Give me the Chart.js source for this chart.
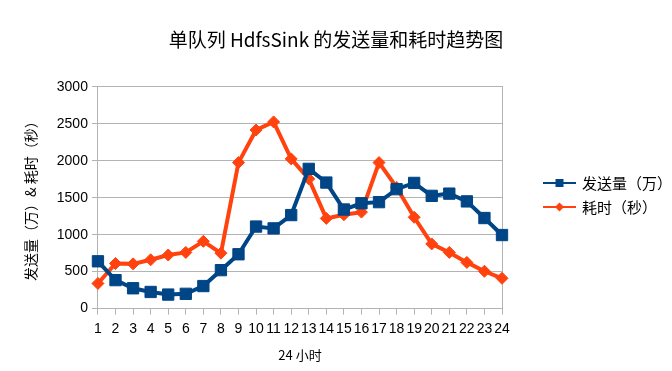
<!DOCTYPE html>
<html>
<head>
<meta charset="utf-8">
<script src="https://cdn.jsdelivr.net/npm/chart.js@4"></script>
<style>
  html, body { margin: 0; padding: 0; background: #fff; }
  #wrap { width: 672px; height: 371px; }
</style>
</head>
<body>
<div id="wrap"><canvas id="chart" width="672" height="371"></canvas></div>
<script>
const hours = ['1','2','3','4','5','6','7','8','9','10','11','12','13','14','15','16','17','18','19','20','21','22','23','24'];
const sendVolume = [640, 385, 275, 225, 190, 200, 305, 520, 735, 1110, 1085, 1265, 1890, 1705, 1340, 1425, 1440, 1615, 1700, 1525, 1555, 1450, 1225, 995];
const timeCost = [340, 610, 605, 660, 725, 760, 910, 750, 1975, 2415, 2525, 2025, 1755, 1220, 1270, 1305, 1975, 1640, 1235, 875, 760, 625, 505, 410];
const yTicks = [0, 500, 1000, 1500, 2000, 2500, 3000];

const FONT = '"Liberation Sans", "Noto Sans CJK SC", sans-serif';
const CJK = '"Noto Sans CJK SC", "Liberation Sans", sans-serif';

// legend drawn as line + marker, like the office chart
const sideLegend = {
  id: 'sideLegend',
  afterDraw(chart) {
    const ctx = chart.ctx;
    const x0 = 543, x1 = 576;
    chart.data.datasets.forEach((ds, i) => {
      const y = 183 + i * 24;
      ctx.save();
      ctx.strokeStyle = ds.borderColor;
      ctx.lineWidth = 2;
      ctx.beginPath();
      ctx.moveTo(x0, y);
      ctx.lineTo(x1, y);
      ctx.stroke();
      ctx.fillStyle = ds.borderColor;
      const m = (x0 + x1) / 2;
      if (ds.pointStyle === 'rect') {
        ctx.fillRect(m - 4, y - 4, 8, 8);
      } else {
        ctx.beginPath();
        ctx.moveTo(m, y - 4.5);
        ctx.lineTo(m + 4.5, y);
        ctx.lineTo(m, y + 4.5);
        ctx.lineTo(m - 4.5, y);
        ctx.closePath();
        ctx.fill();
      }
      ctx.fillStyle = '#000';
      ctx.font = '15px ' + CJK;
      ctx.textBaseline = 'middle';
      ctx.fillText(ds.label, 582, y);
      ctx.restore();
    });
  }
};

new Chart(document.getElementById('chart'), {
  type: 'line',
  data: {
    labels: hours,
    datasets: [
      {
        label: '发送量（万）',
        data: sendVolume,
        borderColor: '#004586',
        backgroundColor: '#004586',
        borderWidth: 4,
        pointStyle: 'rect',
        pointRadius: 8,
        pointBackgroundColor: '#004586',
        pointBorderColor: '#004586',
        pointBorderWidth: 1,
        tension: 0
      },
      {
        label: '耗时（秒）',
        data: timeCost,
        borderColor: '#ff420e',
        backgroundColor: '#ff420e',
        borderWidth: 4,
        pointStyle: 'rectRot',
        pointRadius: 6,
        pointBackgroundColor: '#ff420e',
        pointBorderColor: '#ff420e',
        pointBorderWidth: 1,
        tension: 0
      }
    ]
  },
  options: {
    responsive: false,
    animation: false,
    layout: { padding: { left: 0, right: 0, top: 0, bottom: 8 } },
    plugins: {
      legend: { display: false },
      tooltip: { enabled: false },
      title: {
        display: true,
        text: '单队列 HdfsSink 的发送量和耗时趋势图',
        color: '#000',
        font: { family: CJK, size: 19, weight: 'normal' },
        padding: { top: 28, bottom: 36 }
      }
    },
    scales: {
      x: {
        offset: false,
        grid: { display: true, drawOnChartArea: false, color: '#b3b3b3', tickLength: 6 },
        border: { color: '#b3b3b3' },
        ticks: {
          autoSkip: false,
          maxRotation: 0,
          padding: 6,
          color: '#000',
          font: { family: FONT, size: 14 }
        },
        title: {
          display: true,
          text: '24 小时',
          color: '#000',
          font: { family: CJK, size: 13 },
          padding: { top: 4, bottom: 0 }
        }
      },
      y: {
        min: 0,
        max: 3000,
        afterBuildTicks(scale) {
          scale.ticks = yTicks.map(v => ({ value: v }));
        },
        grid: { color: '#b3b3b3', tickLength: 6 },
        border: { color: '#b3b3b3' },
        ticks: {
          padding: 4,
          color: '#000',
          font: { family: FONT, size: 14 },
          callback: (v) => String(v)
        },
        title: {
          display: true,
          text: '发送量（万）& 耗时（秒）',
          color: '#000',
          font: { family: CJK, size: 14 },
          padding: { top: 22, bottom: 14 }
        }
      },
      // empty right axis: keeps room for the legend and draws the right frame line
      yRight: {
        position: 'right',
        min: 0,
        max: 3000,
        grid: { display: false },
        border: { display: true, color: '#b3b3b3' },
        ticks: { display: false },
        afterFit(scale) {
          scale.width = 170;
        }
      }
    }
  },
  plugins: [sideLegend]
});
</script>
</body>
</html>
